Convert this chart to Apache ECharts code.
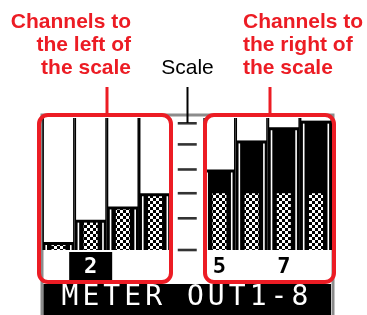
<!DOCTYPE html>
<html><head><meta charset="utf-8">
<script src="https://cdn.jsdelivr.net/npm/echarts@6/dist/echarts.min.js"></script>
<style>html,body{margin:0;padding:0;background:#fff}#c{width:367px;height:315px}</style>
</head><body><div id="c"></div>
<script>
// ---- data ----
const slots = ['1','2','3','4','','5','6','7','8'];
const channelSlots = [0,1,2,3,5,6,7,8];
const channelLevels = [6, 23, 33, 43, 61, 83, 93, 98];
const channelLabels = ['', '2', '', '', '5', '', '7', ''];
const highlighted = [false, true, false, false, false, false, false, false];
const scaleSlot = 4;
const scaleTicks = [96, 80, 61, 43, 24, 0];
const checkerFrom = 43;
const leftTitle = ['Channels to', 'the left of', 'the scale'];
const rightTitle = ['Channels to', 'the right of', 'the scale'];
const scaleTitle = 'Scale';
const footer = 'METER OUT1-8';

const RED = '#ec1c24';
const tile = document.createElement('canvas');
tile.width = 6; tile.height = 6;
const g = tile.getContext('2d');
g.fillStyle = '#000'; g.fillRect(0,0,6,6);
g.fillStyle = '#fff'; g.fillRect(0,0,3,3); g.fillRect(3,3,3,3);
const checker = {image: tile, repeat: 'repeat'};

const chart = echarts.init(document.getElementById('c'), null, {renderer: 'canvas'});

function renderMeter(params, api) {
  const i = params.dataIndex;
  const slot = api.value(0), v = api.value(1);
  const cx = api.coord([slot, v])[0];
  const yL = api.coord([slot, v])[1];
  const yT = api.coord([slot, 100])[1];
  const yB = api.coord([slot, 0])[1];
  const yThr = api.coord([slot, checkerFrom])[1];
  const bw = api.size([1, 0])[0];
  const h = bw / 2;
  const cTop = Math.max(yL + 3, yThr);
  const kids = [
    {type:'rect', shape:{x:cx-h, y:yT, width:bw, height:yB-yT}, style:{fill:'#000'}},
    {type:'rect', shape:{x:cx-h+1.5, y:yT, width:bw-3, height:Math.max(0,yL-yT)}, style:{fill:'#fff'}},
    {type:'rect', shape:{x:cx-h+3, y:yL+3, width:1.6, height:Math.max(0,yB-yL-3)}, style:{fill:'#fff'}},
    {type:'rect', shape:{x:cx+h-4.6, y:yL+3, width:1.6, height:Math.max(0,yB-yL-3)}, style:{fill:'#fff'}},
    {type:'rect', shape:{x:cx-7, y:cTop, width:14, height:Math.max(0,yB-cTop)}, style:{fill:checker}}
  ];
  if (highlighted[i]) {
    kids.push({type:'rect', shape:{x:cx-21.5, y:yB+2, width:43, height:31}, style:{fill:'#000'}});
  }
  if (channelLabels[i]) {
    kids.push({type:'text', style:{text:channelLabels[i], x:cx, y:yB+17, align:'center', verticalAlign:'middle',
      font:'bold 22px "DejaVu Sans Mono"', fill: highlighted[i] ? '#fff' : '#000'}});
  }
  return {type:'group', children:kids};
}

const graphics = [
  {type:'rect', z:-5, shape:{x:42, y:115, width:291, height:205}, style:{fill:'#fff', stroke:'#8c8c8c', lineWidth:3}},
  {type:'rect', z:5, shape:{x:43.5, y:284, width:287.5, height:31}, style:{fill:'#000'}},
  {type:'rect', z:50, shape:{x:39, y:115, width:132, height:167, r:9}, style:{fill:'none', stroke:RED, lineWidth:4}},
  {type:'rect', z:50, shape:{x:205, y:115, width:129, height:167, r:9}, style:{fill:'none', stroke:RED, lineWidth:4}},
  {type:'line', z:50, shape:{x1:107, y1:87, x2:107, y2:114}, style:{stroke:RED, lineWidth:3}},
  {type:'line', z:50, shape:{x1:270, y1:87, x2:270, y2:114}, style:{stroke:RED, lineWidth:3}},
  {type:'line', z:50, shape:{x1:187.5, y1:87, x2:187.5, y2:123}, style:{stroke:'#000', lineWidth:2}},
  {type:'text', z:50, style:{text:scaleTitle, x:187.5, y:68, align:'center', verticalAlign:'middle', font:'21px "Liberation Sans"', fill:'#000'}}
];
leftTitle.forEach((t, k) => graphics.push({type:'text', z:50, style:{text:t, x:131, y:22.5 + k*23, align:'right', verticalAlign:'middle', font:'bold 21px "Liberation Sans"', fill:RED}}));
rightTitle.forEach((t, k) => graphics.push({type:'text', z:50, style:{text:t, x:243, y:22.5 + k*23, align:'left', verticalAlign:'middle', font:'bold 21px "Liberation Sans"', fill:RED}}));
footer.split('').forEach((ch, k) => graphics.push({type:'text', z:6, style:{text:ch, x:70 + k*20.9, y:297.5, align:'center', verticalAlign:'middle', font:'28px "DejaVu Sans Mono"', fill:'#fff'}}));

chart.setOption({
  animation: false,
  backgroundColor: '#fff',
  grid: {left: 42.4, right: 34.9, top: 118, bottom: 65},
  xAxis: {type:'category', data: slots, show:false, boundaryGap:true},
  yAxis: {type:'value', min:0, max:100, show:false},
  graphic: {elements: graphics},
  series: [
    {type:'custom', renderItem: renderMeter, clip:false, z:2,
     data: channelSlots.map((s, k) => [s, channelLevels[k]])},
    {type:'scatter', clip:false, z:3, symbol:'rect', symbolSize:[19, 2.6], itemStyle:{color:'#000'},
     data: scaleTicks.map(v => [scaleSlot, v])}
  ]
});
</script></body></html>
